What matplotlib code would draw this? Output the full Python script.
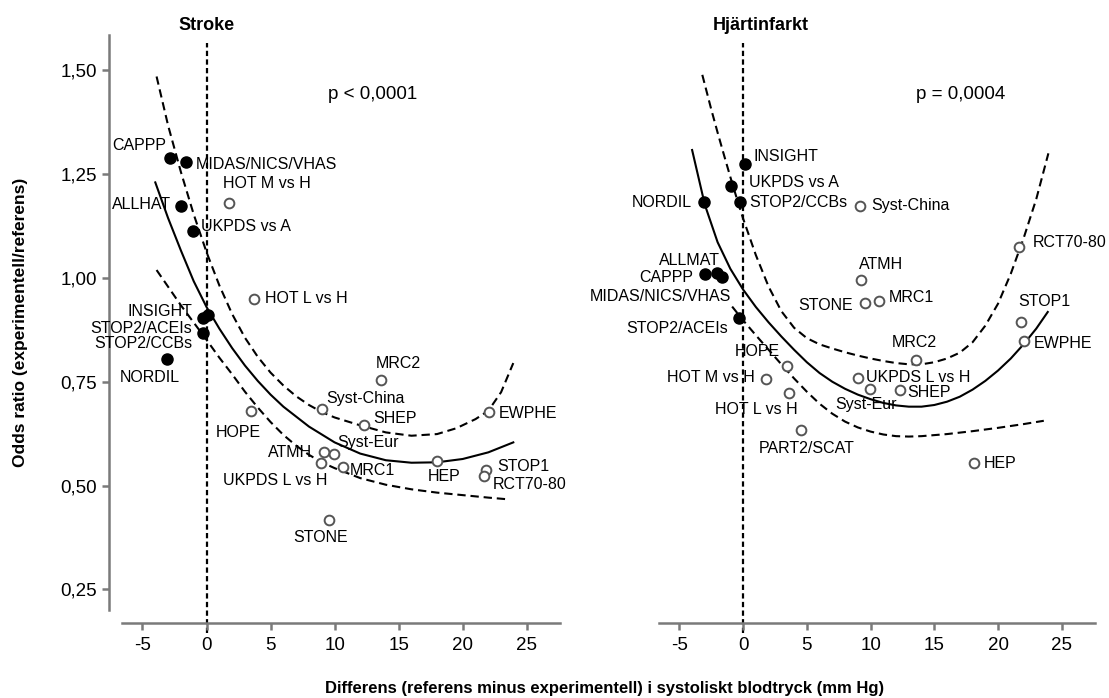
import matplotlib
matplotlib.use("Agg")
import matplotlib.pyplot as plt

plt.rcParams["font.family"] = ["Liberation Sans", "DejaVu Sans"]
plt.rcParams["lines.scale_dashes"] = False

# ---- data: Stroke panel ----
stroke_names = ["CAPPP", "MIDAS/NICS/VHAS", "ALLHAT", "UKPDS vs A", "HOT M vs H",
                "HOT L vs H", "INSIGHT", "STOP2/ACEIs", "STOP2/CCBs", "NORDIL",
                "HOPE", "Syst-China", "SHEP", "MRC2", "EWPHE", "ATMH", "Syst-Eur",
                "UKPDS L vs H", "MRC1", "HEP", "STOP1", "RCT70-80", "STONE"]
stroke_diff = [-2.87, -1.62, -2.03, -1.05, 1.74, 3.70, 0.13, -0.31, -0.26, -3.09,
               3.46, 8.98, 12.29, 13.59, 22.08, 9.16, 9.95, 8.93, 10.67, 18.02,
               21.82, 21.66, 9.55]
stroke_or = [1.288, 1.278, 1.174, 1.112, 1.180, 0.949, 0.911, 0.868, 0.903, 0.805,
             0.680, 0.684, 0.646, 0.753, 0.676, 0.582, 0.576, 0.554, 0.544, 0.558,
             0.538, 0.524, 0.416]
stroke_filled = [True, True, True, True, False, False, True, True, True, True,
                 False, False, False, False, False, False, False, False, False, False,
                 False, False, False]

# fitted curve and its band
stroke_fit_x = [-4.0, -3, -2, -1, 0, 1, 2, 3, 4, 5, 6, 8, 10, 12, 14, 16, 18, 20, 22, 23.95]
stroke_fit_y = [1.230, 1.144, 1.066, 0.992, 0.930, 0.878, 0.831, 0.789, 0.752, 0.719,
                0.690, 0.642, 0.604, 0.577, 0.561, 0.555, 0.556, 0.564, 0.580, 0.604]
stroke_hi_x = [-3.9, -3, -2, -1, 0, 1, 2, 3, 4, 5, 6, 7, 8, 9, 10, 12, 14, 16, 18,
               19.5, 21, 22, 23, 23.95]
stroke_hi_y = [1.485, 1.367, 1.255, 1.153, 1.062, 0.982, 0.913, 0.856, 0.810, 0.772,
               0.741, 0.715, 0.694, 0.677, 0.664, 0.645, 0.628, 0.620, 0.624,
               0.638, 0.660, 0.680, 0.725, 0.795]
stroke_lo_x = [-3.9, -2, 0, 1, 2, 3, 4, 5, 6, 7, 8, 9, 10, 12, 14, 16, 18, 20, 22, 23.5]
stroke_lo_y = [1.019, 0.934, 0.851, 0.808, 0.768, 0.726, 0.688, 0.653, 0.622, 0.596,
               0.574, 0.556, 0.542, 0.518, 0.502, 0.491, 0.483, 0.477, 0.471, 0.467]

# ---- data: Hjärtinfarkt panel ----
mi_names = ["INSIGHT", "UKPDS vs A", "STOP2/CCBs", "NORDIL", "Syst-China", "ALLMAT",
            "CAPPP", "MIDAS/NICS/VHAS", "STOP2/ACEIs", "ATMH", "STONE", "MRC1",
            "RCT70-80", "STOP1", "EWPHE", "MRC2", "HOPE", "HOT M vs H",
            "UKPDS L vs H", "HOT L vs H", "Syst-Eur", "SHEP", "PART2/SCAT", "HEP"]
mi_diff = [0.18, -0.91, -0.21, -3.08, 9.16, -2.95, -2.03, -1.64, -0.29, 9.25, 9.55,
           10.67, 21.61, 21.8, 22.05, 13.54, 3.44, 1.83, 9.03, 3.64, 9.95, 12.29,
           4.53, 18.1]
mi_or = [1.275, 1.222, 1.184, 1.184, 1.173, 1.009, 1.011, 1.002, 0.903, 0.994, 0.939,
         0.945, 1.074, 0.895, 0.849, 0.803, 0.789, 0.757, 0.760, 0.724, 0.732, 0.729,
         0.634, 0.555]
mi_filled = [True, True, True, True, False, True, True, True, True, False, False,
             False, False, False, False, False, False, False, False, False, False, False,
             False, False]

mi_fit_x = [-4, -3, -2, -1, 0, 1, 2, 3, 4, 5, 6, 7, 8, 9, 10, 11, 12, 13, 14, 15, 16,
            17, 18, 19, 20, 21, 22, 23, 23.9]
mi_fit_y = [1.308, 1.176, 1.086, 1.022, 0.972, 0.930, 0.893, 0.859, 0.827, 0.797,
            0.771, 0.750, 0.733, 0.719, 0.708, 0.699, 0.693, 0.690, 0.690, 0.694,
            0.702, 0.714, 0.731, 0.752, 0.777, 0.806, 0.840, 0.878, 0.918]
mi_hi_x = [-3.2, -2.5, -2, -1.5, -1, -0.5, 0, 1, 2, 3, 4, 5, 6, 7, 8, 9, 10, 11, 12,
           13, 14, 15, 16, 17, 18, 19, 20, 21, 22, 23, 23.95]
mi_hi_y = [1.489, 1.406, 1.350, 1.296, 1.243, 1.192, 1.143, 1.055, 0.979, 0.920,
           0.880, 0.855, 0.840, 0.830, 0.821, 0.813, 0.806, 0.800, 0.795, 0.792,
           0.792, 0.797, 0.806, 0.820, 0.845, 0.885, 0.938, 1.010, 1.095, 1.190, 1.300]
mi_lo_x = [-0.86, 0, 1, 2, 3, 4, 5, 6, 7, 8, 9, 10, 11, 12, 13, 14, 16, 18, 20, 22, 23.59]
mi_lo_y = [0.931, 0.898, 0.862, 0.827, 0.792, 0.758, 0.726, 0.697, 0.673, 0.654,
           0.640, 0.630, 0.623, 0.619, 0.618, 0.619, 0.624, 0.631, 0.639, 0.648, 0.656]

x_ticks = [-5, 0, 5, 10, 15, 20, 25]
y_ticks = [0.25, 0.50, 0.75, 1.00, 1.25, 1.50]
y_ticklabels = ["0,25", "0,50", "0,75", "1,00", "1,25", "1,50"]

# label placement (pixel offsets from the point, alignment)
stroke_offsets = {
    "CAPPP": (-4, 13, "right"), "MIDAS/NICS/VHAS": (10, -2, "left"),
    "ALLHAT": (-9, 1, "right"), "UKPDS vs A": (8, 5, "left"),
    "HOT M vs H": (-6, 20, "left"), "HOT L vs H": (11, 1, "left"),
    "INSIGHT": (-16, 3, "right"), "STOP2/ACEIs": (-11, 4, "right"),
    "STOP2/CCBs": (-11, -25, "right"), "NORDIL": (-17, -19, "center"),
    "HOPE": (-13, -22, "center"), "Syst-China": (5, 11, "left"),
    "SHEP": (9, 6, "left"), "MRC2": (18, 17, "center"), "EWPHE": (9, -1, "left"),
    "ATMH": (-12, -1, "right"), "Syst-Eur": (3, 12, "left"),
    "UKPDS L vs H": (6, -17, "right"), "MRC1": (7, -3, "left"),
    "HEP": (7, -15, "center"), "STOP1": (11, 3, "left"),
    "RCT70-80": (9, -9, "left"), "STONE": (-8, -17, "center"),
}
mi_offsets = {
    "INSIGHT": (8, 7, "left"), "UKPDS vs A": (18, 3, "left"),
    "STOP2/CCBs": (9, -1, "left"), "NORDIL": (-12, -1, "right"),
    "Syst-China": (11, 1, "left"), "ALLMAT": (-16, 14, "center"),
    "CAPPP": (-24, -4, "right"), "MIDAS/NICS/VHAS": (9, -19, "right"),
    "STOP2/ACEIs": (-11, -10, "right"), "ATMH": (-2, 16, "left"),
    "STONE": (-12, -2, "right"), "MRC1": (10, 3, "left"),
    "RCT70-80": (14, 5, "left"), "STOP1": (-3, 20, "left"),
    "EWPHE": (10, -3, "left"), "MRC2": (-1, 17, "center"),
    "HOPE": (-30, 14, "center"), "HOT M vs H": (-12, 1, "right"),
    "UKPDS L vs H": (8, 0, "left"), "HOT L vs H": (8, -17, "right"),
    "Syst-Eur": (27, -15, "right"), "SHEP": (8, -2, "left"),
    "PART2/SCAT": (6, -19, "center"), "HEP": (10, -1, "left"),
}

GREY = "#7a7a7a"
DASH = (6, 3.5)


def draw_panel(ax, names, xs, ys, filled, offsets, curves, ptext, ptext_x):
    ax.set_xlim(-6.6, 27.6)
    ax.set_ylim(0.169, 1.585)
    for cx, cy, dashed in curves:
        if dashed:
            ax.plot(cx, cy, color="black", lw=1.5, dashes=DASH, zorder=2)
        else:
            ax.plot(cx, cy, color="black", lw=1.5, zorder=2)
    ax.axvline(0, ymin=-0.017, ymax=0.9866, color="black", lw=1.6,
               dashes=(3.8, 2.4), clip_on=False, zorder=1)
    for name, x, y, f in zip(names, xs, ys, filled):
        if f:
            ax.plot(x, y, "o", ms=8, color="black", zorder=4)
        else:
            ax.plot(x, y, "o", ms=7, mfc="white", mec="#555555", mew=1.4, zorder=4)
        dx, dy, ha = offsets[name]
        ax.annotate(name, (x, y), xytext=(dx, dy), textcoords="offset pixels",
                    ha=ha, va="center", fontsize=11.5, zorder=5)
    ax.text(ptext_x, 1.441, ptext, fontsize=13.5, ha="left", va="center")

    ax.spines["top"].set_visible(False)
    ax.spines["right"].set_visible(False)
    ax.spines["bottom"].set_color(GREY)
    ax.spines["bottom"].set_linewidth(1.8)
    ax.set_xticks(x_ticks)
    ax.set_xticklabels([str(t) for t in x_ticks])
    ax.tick_params(axis="x", length=5, width=1.8, color=GREY, pad=5, labelsize=13.5)
    ax.set_facecolor("none")


fig = plt.figure(figsize=(11.09, 6.98), dpi=100)
ax1 = fig.add_axes([0.110, 0.1074, 0.395, 0.8425])
ax2 = fig.add_axes([0.5942, 0.1074, 0.3931, 0.8425])

draw_panel(ax1, stroke_names, stroke_diff, stroke_or, stroke_filled, stroke_offsets,
           [(stroke_fit_x, stroke_fit_y, False), (stroke_hi_x, stroke_hi_y, True),
            (stroke_lo_x, stroke_lo_y, True)], "p < 0,0001", 9.52)
draw_panel(ax2, mi_names, mi_diff, mi_or, mi_filled, mi_offsets,
           [(mi_fit_x, mi_fit_y, False), (mi_hi_x, mi_hi_y, True),
            (mi_lo_x, mi_lo_y, True)], "p = 0,0004", 13.6)

# left panel keeps its y axis, shifted outward
ax1.spines["left"].set_position(("outward", 9))
ax1.spines["left"].set_bounds(0.20, 1.585)
ax1.spines["left"].set_color(GREY)
ax1.spines["left"].set_linewidth(1.8)
ax1.set_yticks(y_ticks)
ax1.set_yticklabels(y_ticklabels)
ax1.tick_params(axis="y", length=5, width=1.8, color=GREY, pad=4, labelsize=13.5)

ax2.spines["left"].set_visible(False)
ax2.set_yticks([])

fig.text(207 / 1109, 1 - 25 / 698, "Stroke", fontsize=13, fontweight="bold",
         ha="center", va="center")
fig.text(761 / 1109, 1 - 25 / 698, "Hjärtinfarkt", fontsize=13, fontweight="bold",
         ha="center", va="center")

fig.text(21 / 1109, 1 - 322 / 698, "Odds ratio (experimentell/referens)", rotation=90,
         ha="center", va="center", fontsize=12.5, fontweight="bold")
fig.text(605 / 1109, 1 - 688 / 698,
         "Differens (referens minus experimentell) i systoliskt blodtryck (mm Hg)",
         ha="center", va="center", fontsize=12, fontweight="bold")

fig.savefig("out.png", dpi=100, facecolor="white")
